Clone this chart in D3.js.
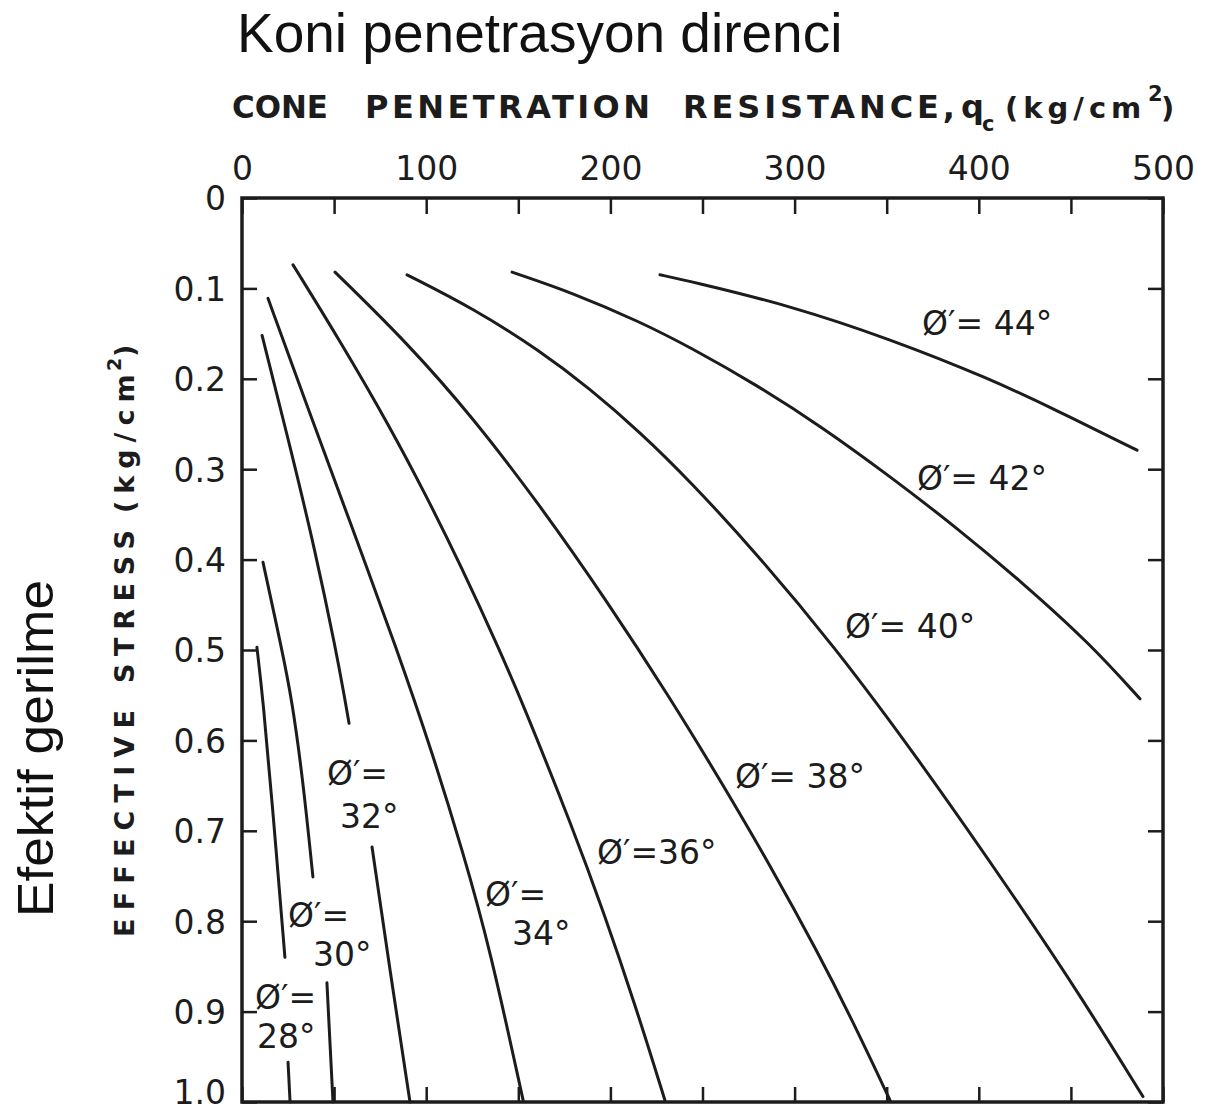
<!DOCTYPE html>
<html><head><meta charset="utf-8">
<script src="https://cdn.jsdelivr.net/npm/d3@7/dist/d3.min.js"></script>
<style>body{margin:0;background:#fff}</style>
</head><body>
<svg id="c" width="1211" height="1114"></svg>
<script>
// ---------- data ----------
const xTickValues = [0,50,100,150,200,250,300,350,400,450,500];
const xLabelValues = [0,100,200,300,400,500];
const xTickLabels = ["0","100","200","300","400","500"];
const yTickValues = [0,0.1,0.2,0.3,0.4,0.5,0.6,0.7,0.8,0.9,1.0];
const yTickLabels = ["0","0.1","0.2","0.3","0.4","0.5","0.6","0.7","0.8","0.9","1.0"];

// [q_c (kg/cm2), effective stress (kg/cm2)]
const phi28a = [[8.1,0.497],[11.4,0.555],[16.3,0.666],[23.3,0.840]];
const phi28b = [[25.0,0.956],[26.1,1.0]];
const phi30a = [[11.4,0.403],[21.7,0.5],[27.1,0.555],[33.1,0.644],[38.5,0.751]];
const phi30b = [[46.1,0.868],[49.4,1.0]];
const phi32a = [[10.9,0.152],[26.6,0.279],[39.6,0.389],[51.0,0.5],[55.9,0.555],[58.1,0.581]];
const phi32b = [[70.6,0.718],[80.3,0.854],[91.2,1.0]];
const phi34 = [[14.1,0.111],[35.3,0.230],[58.6,0.358],[84.1,0.499],[103.7,0.616],[120.0,0.724],[134.6,0.830],[152.6,0.998]];
const phi36 = [[27.7,0.074],[53.2,0.158],[80.3,0.253],[100.4,0.331],[118.4,0.405],[140.1,0.501],[153.6,0.565],[179.7,0.698],[196.0,0.788],[213.4,0.892],[229.6,0.998]];
const phi38 = [[50.5,0.082],[89.6,0.160],[125.4,0.243],[161.8,0.340],[198.2,0.446],[232.4,0.553],[261.1,0.649],[288.3,0.744],[312.2,0.833],[331.2,0.909],[351.8,0.998]];
const phi40 = [[89.6,0.085],[125.4,0.122],[161.8,0.169],[188.9,0.211],[216.1,0.259],[243.2,0.313],[280.1,0.395],[320.8,0.494],[366.4,0.618],[420.7,0.777],[456.6,0.887],[489.1,0.994]];
const phi42 = [[146.6,0.082],[179.7,0.105],[216.1,0.137],[243.2,0.165],[279.6,0.207],[315.4,0.254],[351.8,0.308],[388.2,0.365],[424.0,0.426],[460.4,0.493],[487.5,0.554]];
const phi44 = [[226.9,0.085],[243.2,0.092],[297.5,0.119],[351.8,0.156],[406.1,0.200],[442.4,0.235],[485.9,0.279]];

const segments = [phi28a, phi28b, phi30a, phi30b, phi32a, phi32b, phi34, phi36, phi38, phi40, phi42, phi44];

// curve labels: first line text / anchor, optional second line
const labelLine1 = ["Ø′=", "Ø′=", "Ø′=", "Ø′=", "Ø′=36°", "Ø′= 38°", "Ø′= 40°", "Ø′= 42°", "Ø′= 44°"];
const labelAt1 = [[7.1,0.897],[25.0,0.806],[46.1,0.649],[131.9,0.783],[192.7,0.737],[267.6,0.653],[327.4,0.487],[366.4,0.323],[369.2,0.1515]];
const labelLine2 = ["28°", "30°", "32°", "34°", null, null, null, null, null];
const labelAt2 = [[8.1,0.940],[38.5,0.850],[53.2,0.697],[146.6,0.826], null, null, null, null, null];

// ---------- drawing ----------
const svg = d3.select("#c");
const ink = "#1c1c1c";
const x = d3.scaleLinear().domain([0,500]).range([242,1163]);
const y = d3.scaleLinear().domain([0,1]).range([198,1102]);

svg.append("rect")
  .attr("x", x(0)).attr("y", y(0))
  .attr("width", x(500)-x(0)).attr("height", y(1)-y(0))
  .attr("fill","none").attr("stroke",ink).attr("stroke-width",3.5);

function styleAxis(g){
  g.select(".domain").remove();
  g.selectAll(".tick line").attr("stroke",ink).attr("stroke-width",2.5);
  g.selectAll("text").attr("fill",ink).attr("font-family","DejaVu Sans, sans-serif").attr("font-size",33);
}

const labelMap = new Map(xLabelValues.map((v,i)=>[v,xTickLabels[i]]));
svg.append("g").attr("transform",`translate(0,${y(0)})`)
  .call(d3.axisTop(x).tickValues(xTickValues).tickSize(-16).tickPadding(18)
        .tickFormat(d => labelMap.has(d) ? labelMap.get(d) : ""))
  .call(styleAxis);
svg.append("g").attr("transform",`translate(0,${y(1)})`)
  .call(d3.axisBottom(x).tickValues(xTickValues).tickSize(-15).tickFormat(""))
  .call(styleAxis);
const yAx = svg.append("g").attr("transform",`translate(${x(0)},0)`)
  .call(d3.axisLeft(y).tickValues(yTickValues).tickSize(-15).tickPadding(16)
        .tickFormat((d,i) => yTickLabels[i]))
  .call(styleAxis);
yAx.selectAll("text").attr("dy","0.36em");
yAx.selectAll(".tick").filter(d => d === 1).select("text").attr("dy","0.05em");
svg.append("g").attr("transform",`translate(${x(500)},0)`)
  .call(d3.axisRight(y).tickValues(yTickValues).tickSize(-15).tickFormat(""))
  .call(styleAxis);

// curves
const line = d3.line().x(d=>x(d[0])).y(d=>y(d[1])).curve(d3.curveBasis);
svg.append("g").selectAll("path").data(segments).join("path")
  .attr("d", line).attr("fill","none").attr("stroke",ink)
  .attr("stroke-width",3).attr("stroke-linecap","round");

// curve labels (one text element per label, second line as tspan)
const lab = svg.append("g").attr("fill",ink).attr("font-family","DejaVu Sans, sans-serif").attr("font-size",33);
labelLine1.forEach((t,i)=>{
  const tx = lab.append("text");
  tx.append("tspan").attr("x",x(labelAt1[i][0])).attr("y",y(labelAt1[i][1])).text(t);
  if(labelLine2[i]) tx.append("tspan").attr("x",x(labelAt2[i][0])).attr("y",y(labelAt2[i][1])).text(labelLine2[i]);
});

// top axis title
const tt = svg.append("g").attr("fill",ink).attr("font-family","DejaVu Sans, sans-serif").attr("font-weight","bold").attr("font-size",32);
tt.append("text").attr("x",232).attr("y",118).attr("textLength",96).attr("lengthAdjust","spacingAndGlyphs").text("CONE");
tt.append("text").attr("x",365).attr("y",118).attr("textLength",285).attr("lengthAdjust","spacing").text("PENETRATION");
tt.append("text").attr("x",683).attr("y",118).attr("textLength",272).attr("lengthAdjust","spacing").text("RESISTANCE,");
const unitT = tt.append("text");
unitT.append("tspan").attr("x",961).attr("y",118).text("q");
unitT.append("tspan").attr("x",982).attr("y",131).attr("font-size",21).text("c");
unitT.append("tspan").attr("x",1005).attr("y",118).attr("font-size",29).attr("letter-spacing",5).text("(kg/cm");
unitT.append("tspan").attr("x",1148).attr("y",101).attr("font-size",21).text("2");
unitT.append("tspan").attr("x",1161).attr("y",118).attr("font-size",29).text(")");

// left axis title (rotated)
const lt = svg.append("g").attr("transform","translate(134,937) rotate(-90)")
  .attr("fill",ink).attr("font-family","DejaVu Sans, sans-serif").attr("font-weight","bold").attr("font-size",27);
lt.append("text").attr("x",0).attr("y",0).attr("textLength",227).attr("lengthAdjust","spacing").text("EFFECTIVE");
lt.append("text").attr("x",254).attr("y",0).attr("textLength",153).attr("lengthAdjust","spacing").text("STRESS");
const ltu = lt.append("text");
ltu.append("tspan").attr("x",424).attr("y",0).attr("letter-spacing",7).text("(kg/cm");
ltu.append("tspan").attr("x",566).attr("y",-13).attr("font-size",19).text("2");
ltu.append("tspan").attr("x",580).attr("y",0).text(")");

// Turkish titles
svg.append("text").attr("x",237).attr("y",52)
  .attr("font-family","Liberation Sans, Arial, sans-serif").attr("font-size",55).attr("fill","#111")
  .text("Koni penetrasyon direnci");
svg.append("text").attr("transform","translate(53,917) rotate(-90)")
  .attr("font-family","Liberation Sans, Arial, sans-serif").attr("font-size",50).attr("fill","#111")
  .attr("textLength",337).attr("lengthAdjust","spacingAndGlyphs")
  .text("Efektif gerilme");
</script>
</body></html>
